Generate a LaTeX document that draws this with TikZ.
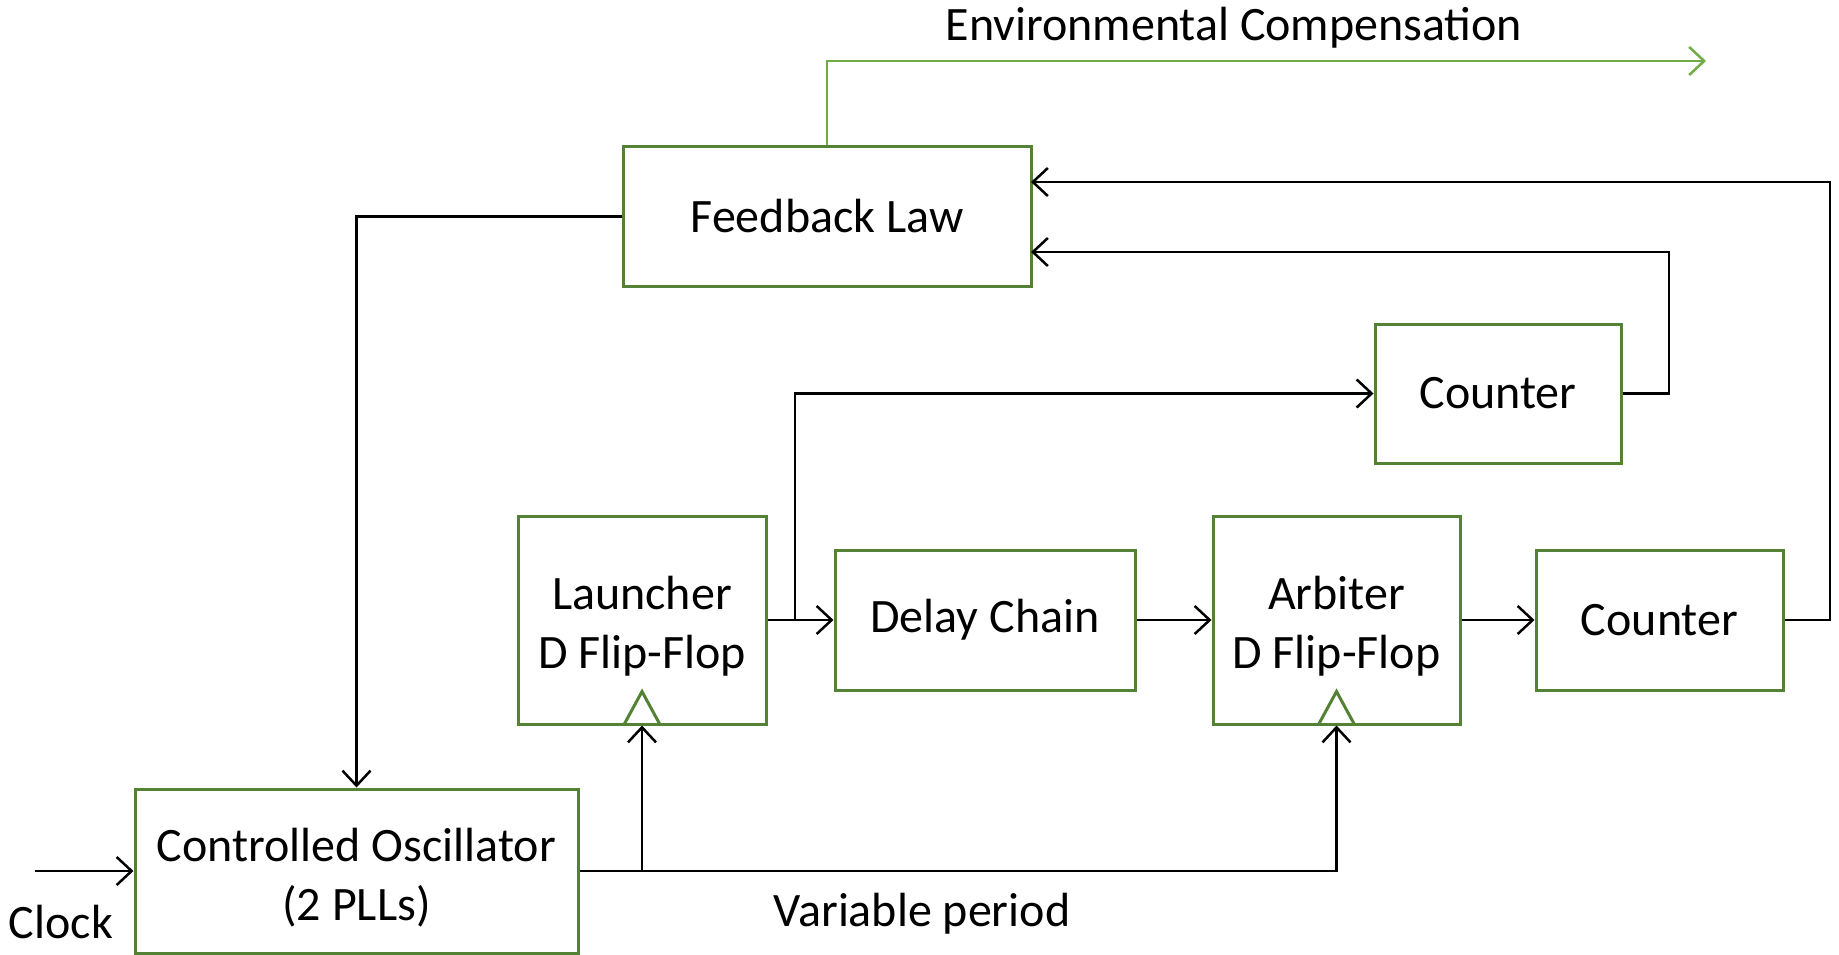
\documentclass[tikz,border=0pt]{standalone}
\usepackage{fontspec}
\setmainfont{Carlito}
\usetikzlibrary{arrows.meta}
\definecolor{boxgreen}{RGB}{84,130,53}
\definecolor{envgreen}{RGB}{112,173,71}
\tikzset{
  block/.style={draw=boxgreen, line width=3pt, align=center, inner sep=0pt,
    font=\fontsize{48}{59}\selectfont},
  wire/.style={line width=2.5pt, -{Straight Barb[length=15pt,width=28pt,line width=2.5pt]}},
  envwire/.style={draw=envgreen, line width=2.5pt, -{Straight Barb[length=15pt,width=28pt,line width=2.5pt]}},
  clocktri/.style={draw=boxgreen, line width=3pt},
  lbl/.style={font=\fontsize{48}{59}\selectfont, inner sep=0pt}
}
\begin{document}
\begin{tikzpicture}[x=1pt,y=-1pt]
        \useasboundingbox (0,0) rectangle (1839,955);
        % blocks
        \node[block, minimum width=408pt, minimum height=139pt] (fb) at (827,216.5) {Feedback Law};
        \node[block, minimum width=443pt, minimum height=164pt] (osc) at (356.5,871) {\rule{0pt}{46pt}Controlled Oscillator\\(2 PLLs)};
        \node[block, minimum width=248pt, minimum height=208pt] (lau) at (642,620) {\rule{0pt}{46pt}Launcher\\D Flip-Flop};
        \node[block, minimum width=300pt, minimum height=140pt] (del) at (985,620) {Delay Chain};
        \node[block, minimum width=247pt, minimum height=208pt] (arb) at (1336.5,620) {\rule{0pt}{46pt}Arbiter\\D Flip-Flop};
        \node[block, minimum width=247pt, minimum height=140pt] (cnt2) at (1659.5,620) {Counter};
        \node[block, minimum width=246pt, minimum height=139pt] (cnt1) at (1498,393.5) {Counter};
        % labels
        \node[lbl] (envlbl) at (1234,28) {Environmental Compensation};
        \node[lbl] (clklbl) at (61,922) {Clock};
        \node[lbl] (varlbl) at (922,914) {Variable period};
        % clock inputs
        \draw[clocktri] ([xshift=-18.5pt]lau.south) -- ([yshift=34pt]lau.south) -- ([xshift=18.5pt]lau.south);
        \draw[clocktri] ([xshift=-18.5pt]arb.south) -- ([yshift=34pt]arb.south) -- ([xshift=18.5pt]arb.south);
        % connection points
        \coordinate (clk) at (35,871);
        \coordinate (split) at (795,620);
        \coordinate (fbin1) at (1031,252);
        \coordinate (fbin2) at (1031,182);
        \coordinate (envout) at (1706,61);
        % wires
        \draw[wire] (clk) -- (osc.west);
        \draw[wire] (osc.east) -| (arb.south);
        \draw[wire] (lau.south |- osc.east) -- (lau.south);
        \draw[wire] (fb.west) -| (osc.north);
        \draw[wire] (lau.east) -- (del.west);
        \draw[wire] (split) |- (cnt1.west);
        \draw[wire] (del.east) -- (arb.west);
        \draw[wire] (arb.east) -- (cnt2.west);
        \draw[wire] (cnt1.east) -| (1669,252) -- (fbin1);
        \draw[wire] (cnt2.east) -| (1830,182) -- (fbin2);
        \draw[envwire] (fb.north) |- (envout);
    \end{tikzpicture}
\end{document}
